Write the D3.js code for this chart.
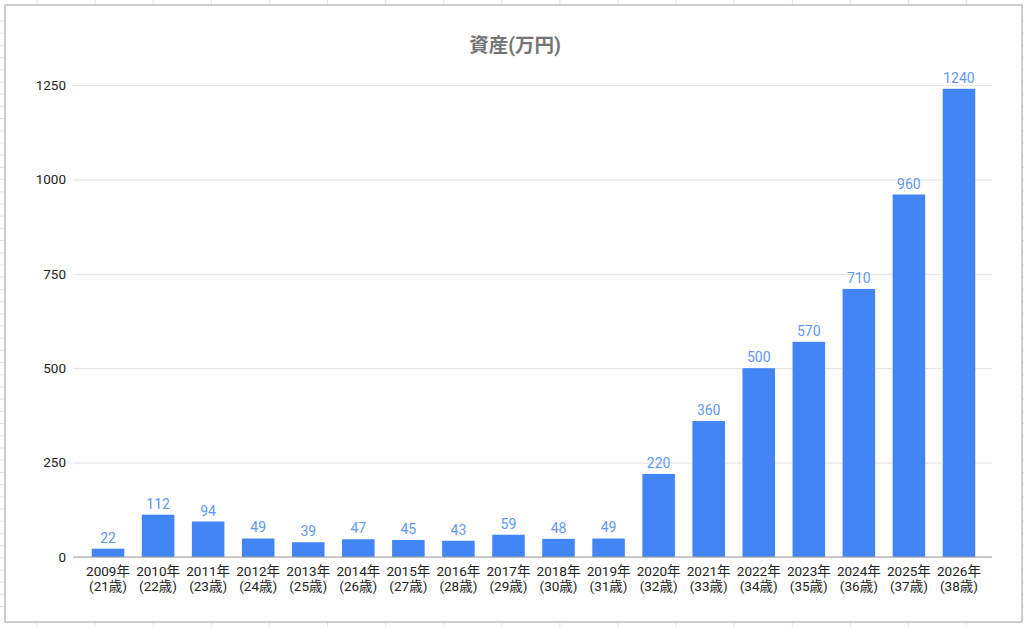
<!DOCTYPE html>
<html>
<head>
<meta charset="utf-8">
<script src="https://cdn.jsdelivr.net/npm/d3@7"></script>
<style>
  body { margin: 0; background: #fff; }
  svg { display: block; font-family: Roboto, "Noto Sans CJK JP", sans-serif; }
</style>
</head>
<body>
<svg id="chart" width="1024" height="627"></svg>
<script>
const years = ["2009年", "2010年", "2011年", "2012年", "2013年", "2014年", "2015年", "2016年", "2017年",
  "2018年", "2019年", "2020年", "2021年", "2022年", "2023年", "2024年", "2025年", "2026年"];
const ages = ["(21歳)", "(22歳)", "(23歳)", "(24歳)", "(25歳)", "(26歳)", "(27歳)", "(28歳)", "(29歳)",
  "(30歳)", "(31歳)", "(32歳)", "(33歳)", "(34歳)", "(35歳)", "(36歳)", "(37歳)", "(38歳)"];
const assets = [22, 112, 94, 49, 39, 47, 45, 43, 59, 48, 49, 220, 360, 500, 570, 710, 960, 1240];
const yTicks = [0, 250, 500, 750, 1000, 1250];

const width = 1024;
const height = 627;
const svg = d3.select("#chart");

// spreadsheet cells behind the chart
const bg = svg.append("g").attr("stroke", "#e3e3e3").attr("stroke-width", 1);
bg.selectAll("line.v")
  .data(d3.range(37, width, 58.1))
  .join("line")
  .attr("x1", (d) => d).attr("x2", (d) => d)
  .attr("y1", 0).attr("y2", height);
bg.selectAll("line.h")
  .data(d3.range(21, height, 12.2))
  .join("line")
  .attr("x1", 0).attr("x2", width)
  .attr("y1", (d) => d).attr("y2", (d) => d);

// chart card
svg.append("rect")
  .attr("x", 5).attr("y", 5)
  .attr("width", 1017).attr("height", 617)
  .attr("fill", "#fff")
  .attr("stroke", "#bdbdbd")
  .attr("stroke-width", 1.5);

svg.append("text")
  .attr("x", 515).attr("y", 52)
  .attr("text-anchor", "middle")
  .attr("fill", "#757575")
  .style("font-size", "19.5px")
  .style("font-weight", "bold")
  .text("資産(万円)");

const plotLeft = 73;
const plotRight = 992;

const y = d3.scaleLinear().domain([0, 1250]).range([557, 85]);
const x = d3.scaleBand()
  .domain(years)
  .range([83, 984])
  .paddingInner(0.35)
  .paddingOuter(0.175);

// horizontal gridlines + y labels
const yAxis = d3.axisLeft(y)
  .tickValues(yTicks)
  .tickSize(-(plotRight - plotLeft))
  .tickPadding(7)
  .tickFormat(d3.format("d"));

const yg = svg.append("g")
  .attr("transform", `translate(${plotLeft},0)`)
  .call(yAxis);
yg.select(".domain").remove();
yg.selectAll(".tick line").attr("stroke", "#e6e6e6").attr("stroke-width", 1.2);
yg.selectAll(".tick text")
  .attr("fill", "#222")
  .style("font-size", "13.5px")
  .style("font-family", "Roboto, sans-serif");

// bars
svg.append("g")
  .selectAll("rect")
  .data(assets)
  .join("rect")
  .attr("x", (d, i) => x(years[i]))
  .attr("y", (d) => y(d))
  .attr("width", x.bandwidth())
  .attr("height", (d) => y(0) - y(d))
  .attr("fill", "#4285f4");

// value labels
svg.append("g")
  .selectAll("text")
  .data(assets)
  .join("text")
  .attr("x", (d, i) => x(years[i]) + x.bandwidth() / 2)
  .attr("y", (d) => y(d) - 6)
  .attr("text-anchor", "middle")
  .attr("fill", "#5f97f5")
  .style("font-size", "14px")
  .text((d) => d);

// baseline
svg.append("line")
  .attr("x1", plotLeft).attr("x2", plotRight)
  .attr("y1", y(0)).attr("y2", y(0))
  .attr("stroke", "#9e9e9e")
  .attr("stroke-width", 1.2);

// x labels, two lines each
const xl = svg.append("g")
  .selectAll("text")
  .data(years)
  .join("text")
  .attr("text-anchor", "middle")
  .attr("fill", "#222")
  .style("font-size", "13.5px");
xl.append("tspan")
  .attr("x", (d) => x(d) + x.bandwidth() / 2)
  .attr("y", 576)
  .text((d) => d);
xl.append("tspan")
  .attr("x", (d) => x(d) + x.bandwidth() / 2)
  .attr("y", 591)
  .text((d, i) => ages[i]);
</script>
</body>
</html>
